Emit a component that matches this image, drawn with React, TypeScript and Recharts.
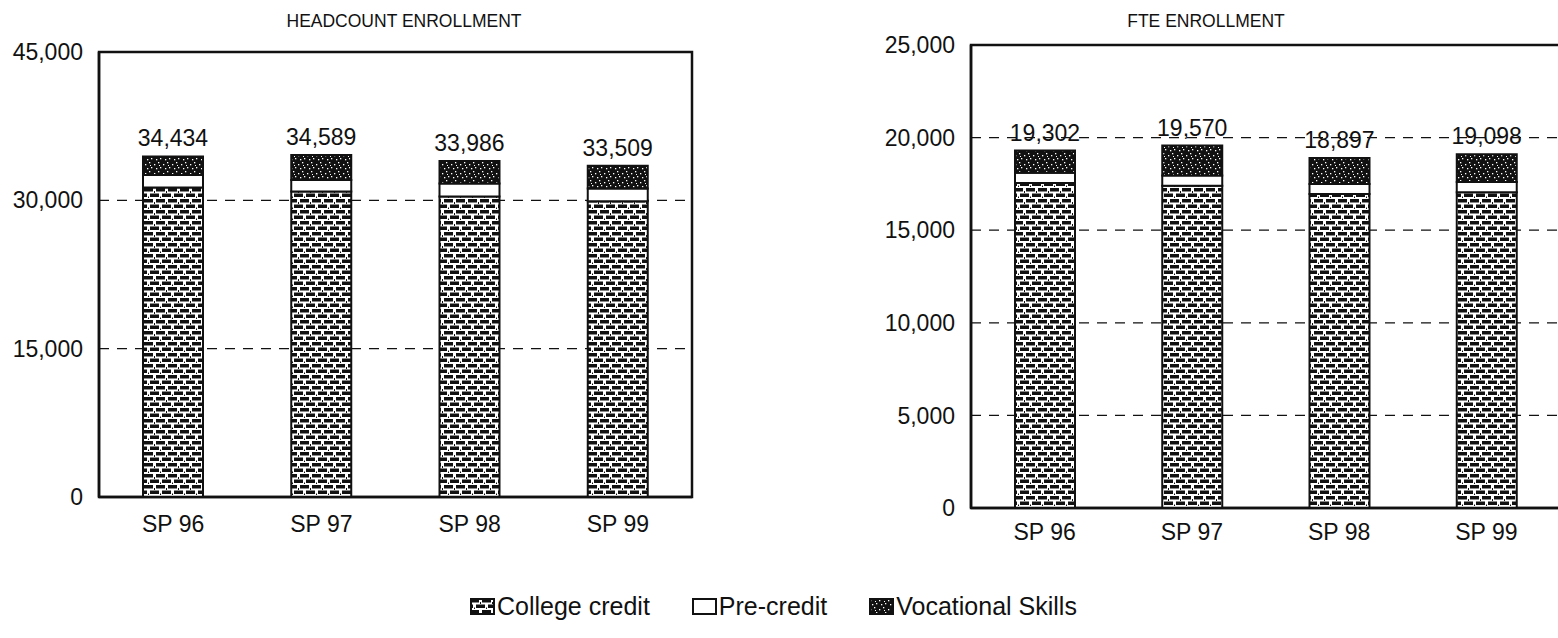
import React from 'react';
import { BarChart, Bar, XAxis, YAxis, CartesianGrid, LabelList, ReferenceArea } from 'recharts';

const categories = ['SP 96', 'SP 97', 'SP 98', 'SP 99'];
const seriesNames = ['College credit', 'Pre-credit', 'Vocational Skills'];

// headcount enrollment
const headCollege = [31300, 30900, 30400, 29900];
const headPre = [1250, 1150, 1300, 1300];
const headVoc = [1884, 2539, 2286, 2309];
const headTotal = [34434, 34589, 33986, 33509];
const headTicks = [0, 15000, 30000, 45000];

// FTE enrollment
const fteCollege = [17550, 17400, 16950, 17050];
const ftePre = [550, 550, 550, 550];
const fteVoc = [1202, 1620, 1397, 1498];
const fteTotal = [19302, 19570, 18897, 19098];
const fteTicks = [0, 5000, 10000, 15000, 20000, 25000];

const FONT = "Arial, 'Liberation Sans', sans-serif";
const INK = '#111';

const buildRows = (college: number[], pre: number[], voc: number[], total: number[]) =>
  categories.map((name, i) => ({ name, college: college[i], pre: pre[i], voc: voc[i], total: total[i] }));

const headRows = buildRows(headCollege, headPre, headVoc, headTotal);
const fteRows = buildRows(fteCollege, ftePre, fteVoc, fteTotal);

const fmt = (v: any) => Number(v).toLocaleString('en-US');

function Patterns({ id }: { id: string }) {
  return (
    <defs>
      <pattern id={`${id}-brick`} width="12" height="11" patternUnits="userSpaceOnUse">
        <rect width="12" height="11" fill="#fff" />
        <rect x="0" y="1" width="9" height="3.5" fill={INK} />
        <rect x="6" y="6.5" width="6" height="3.5" fill={INK} />
        <rect x="0" y="6.5" width="3" height="3.5" fill={INK} />
        <rect x="10" y="4" width="1" height="2" fill={INK} />
        <rect x="4" y="9.5" width="1" height="2" fill={INK} />
      </pattern>
      <pattern id={`${id}-dots`} width="9" height="9" patternUnits="userSpaceOnUse">
        <rect width="9" height="9" fill={INK} />
        <rect x="1" y="2" width="1.3" height="1.3" fill="#fff" />
        <rect x="5" y="0" width="1.3" height="1.3" fill="#fff" />
        <rect x="7" y="5" width="1.3" height="1.3" fill="#fff" />
        <rect x="3" y="6" width="1.3" height="1.3" fill="#fff" />
        <rect x="6" y="3" width="1" height="1" fill="#fff" />
      </pattern>
    </defs>
  );
}

interface PanelProps {
  id: string;
  rows: any[];
  ticks: number[];
  width: number;
  height: number;
  margin: { top: number; right: number; bottom: number; left: number };
  yWidth: number;
  xTickMargin: number;
}

function Panel({ id, rows, ticks, width, height, margin, yWidth, xTickMargin }: PanelProps) {
  const frame = { stroke: INK, strokeWidth: 2.5 };
  const tickStyle = { fill: INK, fontSize: 23, fontFamily: FONT };
  const max = ticks[ticks.length - 1];
  return (
    <BarChart width={width} height={height} data={rows} margin={margin} barSize={60}>
      <Patterns id={id} />
      <CartesianGrid vertical={false} stroke={INK} strokeDasharray="10 8" strokeWidth={1.2} />
      <XAxis dataKey="name" axisLine={frame} tickLine={false} tick={tickStyle} tickMargin={xTickMargin} height={40} />
      <YAxis
        domain={[0, max]}
        ticks={ticks}
        tickFormatter={fmt}
        axisLine={frame}
        tickLine={false}
        tick={tickStyle}
        tickMargin={10}
        width={yWidth}
      />
      <ReferenceArea y1={0} y2={max} fill="none" stroke={INK} strokeWidth={2.5} ifOverflow="visible" />
      <Bar dataKey="college" name={seriesNames[0]} stackId="a" fill={`url(#${id}-brick)`} stroke={INK} strokeWidth={2} isAnimationActive={false} />
      <Bar dataKey="pre" name={seriesNames[1]} stackId="a" fill="#fff" stroke={INK} strokeWidth={2} isAnimationActive={false} />
      <Bar dataKey="voc" name={seriesNames[2]} stackId="a" fill={`url(#${id}-dots)`} stroke={INK} strokeWidth={2} isAnimationActive={false}>
        <LabelList dataKey="total" position="top" offset={10} formatter={fmt} style={{ fill: INK, fontSize: 23, fontFamily: FONT }} />
      </Bar>
    </BarChart>
  );
}

function Swatch({ kind }: { kind: number }) {
  return (
    <svg width={25} height={17} style={{ marginRight: 2 }}>
      <Patterns id={`lg${kind}`} />
      <rect
        x={1}
        y={1}
        width={23}
        height={15}
        fill={kind === 0 ? 'url(#lg0-brick)' : kind === 1 ? '#fff' : 'url(#lg2-dots)'}
        stroke={INK}
        strokeWidth={2}
      />
    </svg>
  );
}

export default function App() {
  const titleStyle: React.CSSProperties = {
    position: 'absolute',
    fontFamily: FONT,
    fontSize: 17.5,
    color: INK,
    transform: 'translateX(-50%)',
    whiteSpace: 'nowrap',
  };
  return (
    <div style={{ position: 'fixed', left: 0, top: 0, width: 1558, height: 638, overflow: 'hidden', background: '#fff' }}>
      <div style={{ ...titleStyle, left: 404, top: 11 }}>HEADCOUNT ENROLLMENT</div>
      <div style={{ ...titleStyle, left: 1206, top: 11 }}>FTE ENROLLMENT</div>

      <div style={{ position: 'absolute', left: 0, top: 0 }}>
        <Panel
          id="hc"
          rows={headRows}
          ticks={headTicks}
          width={720}
          height={560}
          margin={{ top: 52, right: 28, bottom: 23, left: 0 }}
          yWidth={99}
          xTickMargin={13}
        />
      </div>

      <div style={{ position: 'absolute', left: 870, top: 0 }}>
        <Panel
          id="fte"
          rows={fteRows}
          ticks={fteTicks}
          width={720}
          height={570}
          margin={{ top: 45, right: 30, bottom: 22, left: 0 }}
          yWidth={101}
          xTickMargin={10}
        />
      </div>

      <div
        style={{
          position: 'absolute',
          left: 470,
          top: 592,
          display: 'flex',
          alignItems: 'center',
          gap: 42,
          fontFamily: FONT,
          fontSize: 25,
          color: INK,
          whiteSpace: 'nowrap',
        }}
      >
        {seriesNames.map((s, i) => (
          <div key={s} style={{ display: 'flex', alignItems: 'center' }}>
            <Swatch kind={i} />
            <span>{s}</span>
          </div>
        ))}
      </div>
    </div>
  );
}
